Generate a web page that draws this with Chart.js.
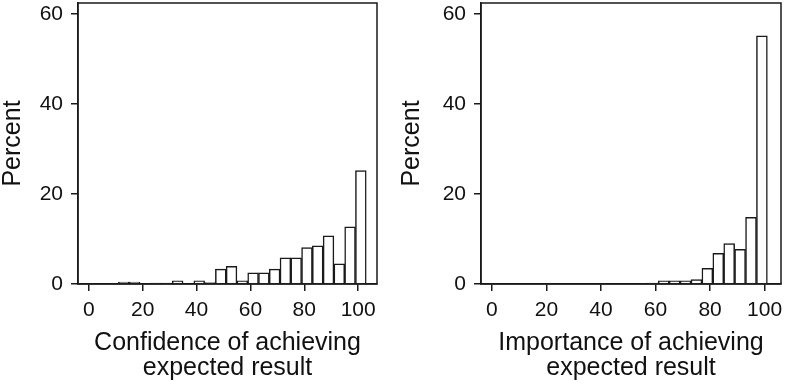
<!DOCTYPE html>
<html>
<head>
<meta charset="utf-8">
<script src="https://cdn.jsdelivr.net/npm/chart.js@4/dist/chart.umd.min.js"></script>
<style>
  body { margin: 0; background: #fff; }
  canvas { position: absolute; top: 0; }
  #left { left: 0; }
  #right { left: 393px; }
</style>
</head>
<body>
<canvas id="left" width="393" height="385"></canvas>
<canvas id="right" width="393" height="385"></canvas>
<script>
// bin centres (bins are 4 points wide) and percent of respondents per bin
const confidenceBins = [1, 5, 9, 13, 17, 21, 25, 29, 33, 37, 41, 45, 49, 53, 57, 61, 65, 69, 73, 77, 81, 85, 89, 93, 97, 101];
const confidencePct  = [0, 0, 0, 0.4, 0.4, 0, 0.2, 0.2, 0.7, 0, 0.7, 0.3, 3.3, 3.9, 0.7, 2.5, 2.5, 3.3, 5.8, 5.8, 8.1, 8.5, 10.7, 4.5, 12.7, 25.2];

const importanceBins = [3, 7, 11, 15, 19, 23, 27, 31, 35, 39, 43, 47, 51, 55, 59, 63, 67, 71, 75, 79, 83, 87, 91, 95, 99];
const importancePct  = [0, 0, 0, 0, 0, 0, 0, 0, 0, 0, 0, 0, 0, 0, 0.2, 0.7, 0.7, 0.7, 1.0, 3.5, 6.8, 9.0, 7.7, 14.8, 55.1];

const xTicks = [0, 20, 40, 60, 80, 100];
const yTicks = [0, 20, 40, 60];

const ink = '#1a1a1a';

// box round the plot area (top and right sides)
const frame = {
  id: 'frame',
  afterDraw(chart) {
    const a = chart.chartArea, ctx = chart.ctx;
    ctx.save();
    ctx.strokeStyle = ink;
    ctx.lineWidth = 1.5;
    ctx.strokeRect(a.left, a.top, a.right - a.left, a.bottom - a.top);
    ctx.restore();
  }
};

function noPad(s) {
  s.paddingTop = 0; s.paddingBottom = 0; s.paddingLeft = 0; s.paddingRight = 0;
}

function makeHist(id, bins, pct, title, yWidth, xMax, rightPad, yTitlePad) {
  const ctx = document.getElementById(id).getContext('2d');
  return new Chart(ctx, {
    type: 'bar',
    data: {
      datasets: [{
        data: bins.map((b, i) => ({ x: b, y: pct[i] })),
        backgroundColor: '#fff',
        borderColor: ink,
        borderWidth: 1.5,
        barPercentage: 1,
        categoryPercentage: 1
      }]
    },
    options: {
      responsive: false,
      animation: false,
      devicePixelRatio: 1,
      layout: { padding: { left: 0, right: rightPad, top: 3, bottom: 0 } },
      plugins: { legend: { display: false }, tooltip: { enabled: false } },
      scales: {
        x: {
          type: 'linear',
          offset: false,
          min: -4,
          max: xMax,
          afterBuildTicks: s => { s.ticks = xTicks.map(v => ({ value: v })); },
          afterFit: s => { s.height = 101; noPad(s); },
          grid: { offset: false, drawOnChartArea: false, tickLength: 7, color: ink, lineWidth: 1.5 },
          border: { color: ink, width: 1.5 },
          ticks: { color: '#111', padding: 7, maxRotation: 0, font: { family: 'Liberation Sans', size: 21 } },
          title: {
            display: true,
            text: title,
            color: '#111',
            padding: { top: 0, bottom: 4 },
            font: { family: 'Liberation Sans', size: 25, lineHeight: 1 }
          }
        },
        y: {
          min: 0,
          max: 62.4,
          afterBuildTicks: s => { s.ticks = yTicks.map(v => ({ value: v })); },
          afterFit: s => { s.width = yWidth; noPad(s); },
          grid: { drawOnChartArea: false, tickLength: 7, color: ink, lineWidth: 1.5 },
          border: { color: ink, width: 1.5 },
          ticks: { color: '#111', padding: 8, font: { family: 'Liberation Sans', size: 21 } },
          title: {
            display: true,
            text: 'Percent',
            color: '#111',
            padding: { top: yTitlePad, bottom: 0 },
            font: { family: 'Liberation Sans', size: 25, lineHeight: 1 }
          }
        }
      }
    },
    plugins: [frame]
  });
}

makeHist('left', confidenceBins, confidencePct, ['Confidence of achieving', 'expected result'], 78, 107, 16, 1);
makeHist('right', importanceBins, importancePct, ['Importance of achieving', 'expected result'], 88, 106, 5, 7);
</script>
</body>
</html>
